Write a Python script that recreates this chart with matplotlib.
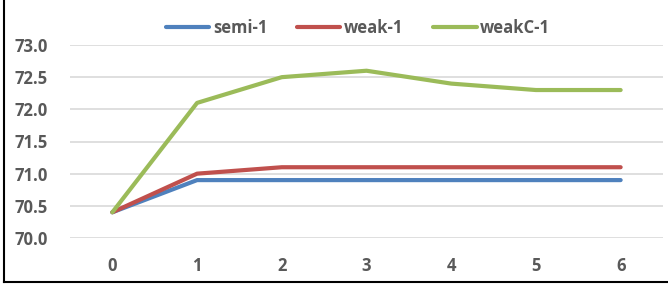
import matplotlib.pyplot as plt
from matplotlib.lines import Line2D

# datos
x = [0, 1, 2, 3, 4, 5, 6]
semi_1 = [70.4, 70.9, 70.9, 70.9, 70.9, 70.9, 70.9]
weak_1 = [70.4, 71.0, 71.1, 71.1, 71.1, 71.1, 71.1]
weakC_1 = [70.4, 72.1, 72.5, 72.6, 72.4, 72.3, 72.3]
yticks = [70.0, 70.5, 71.0, 71.5, 72.0, 72.5, 73.0]

plt.rcParams['font.family'] = ['Open Sans', 'DejaVu Sans']
gray = '#595959'

fig = plt.figure(figsize=(6.68, 2.89), dpi=100)
ax = fig.add_axes([70 / 668, 1 - 238 / 289, 593 / 668, 193 / 289])

ax.plot(x, semi_1, color='#4F81BD', lw=3, label='semi-1', solid_capstyle='round')
ax.plot(x, weak_1, color='#C0504D', lw=3, label='weak-1', solid_capstyle='round')
ax.plot(x, weakC_1, color='#9BBB59', lw=3, label='weakC-1', solid_capstyle='round')

ax.set_xlim(-0.5, 6.5)
ax.set_ylim(70.0, 73.0)
ax.set_yticks(yticks)
ax.set_yticklabels([f'{v:.1f}' for v in yticks])
ax.set_xticks(x)
ax.grid(axis='y', color='#D9D9D9', lw=1.2)
ax.set_axisbelow(True)
for s in ax.spines.values():
    s.set_visible(False)
ax.tick_params(length=0, labelsize=12, labelcolor=gray)
ax.tick_params(axis='y', pad=16)
ax.tick_params(axis='x', pad=14)
for t in ax.get_xticklabels() + ax.get_yticklabels():
    t.set_fontweight('bold')

leg = fig.legend(loc='center', bbox_to_anchor=(358 / 668, 1 - 28 / 289), ncol=3,
                 frameon=False, handlelength=2.6, handletextpad=0.2, columnspacing=1.8,
                 prop={'size': 12, 'weight': 'bold'})
for t in leg.get_texts():
    t.set_color(gray)

# bordes del recorte
fig.add_artist(Line2D([4 / 668, 4 / 668], [1 - 282 / 289, 1], color='black', lw=1.5))
fig.add_artist(Line2D([4 / 668, 1], [1 - 282 / 289, 1 - 282 / 289], color='black', lw=1.5))

fig.savefig('out.png', dpi=100)
